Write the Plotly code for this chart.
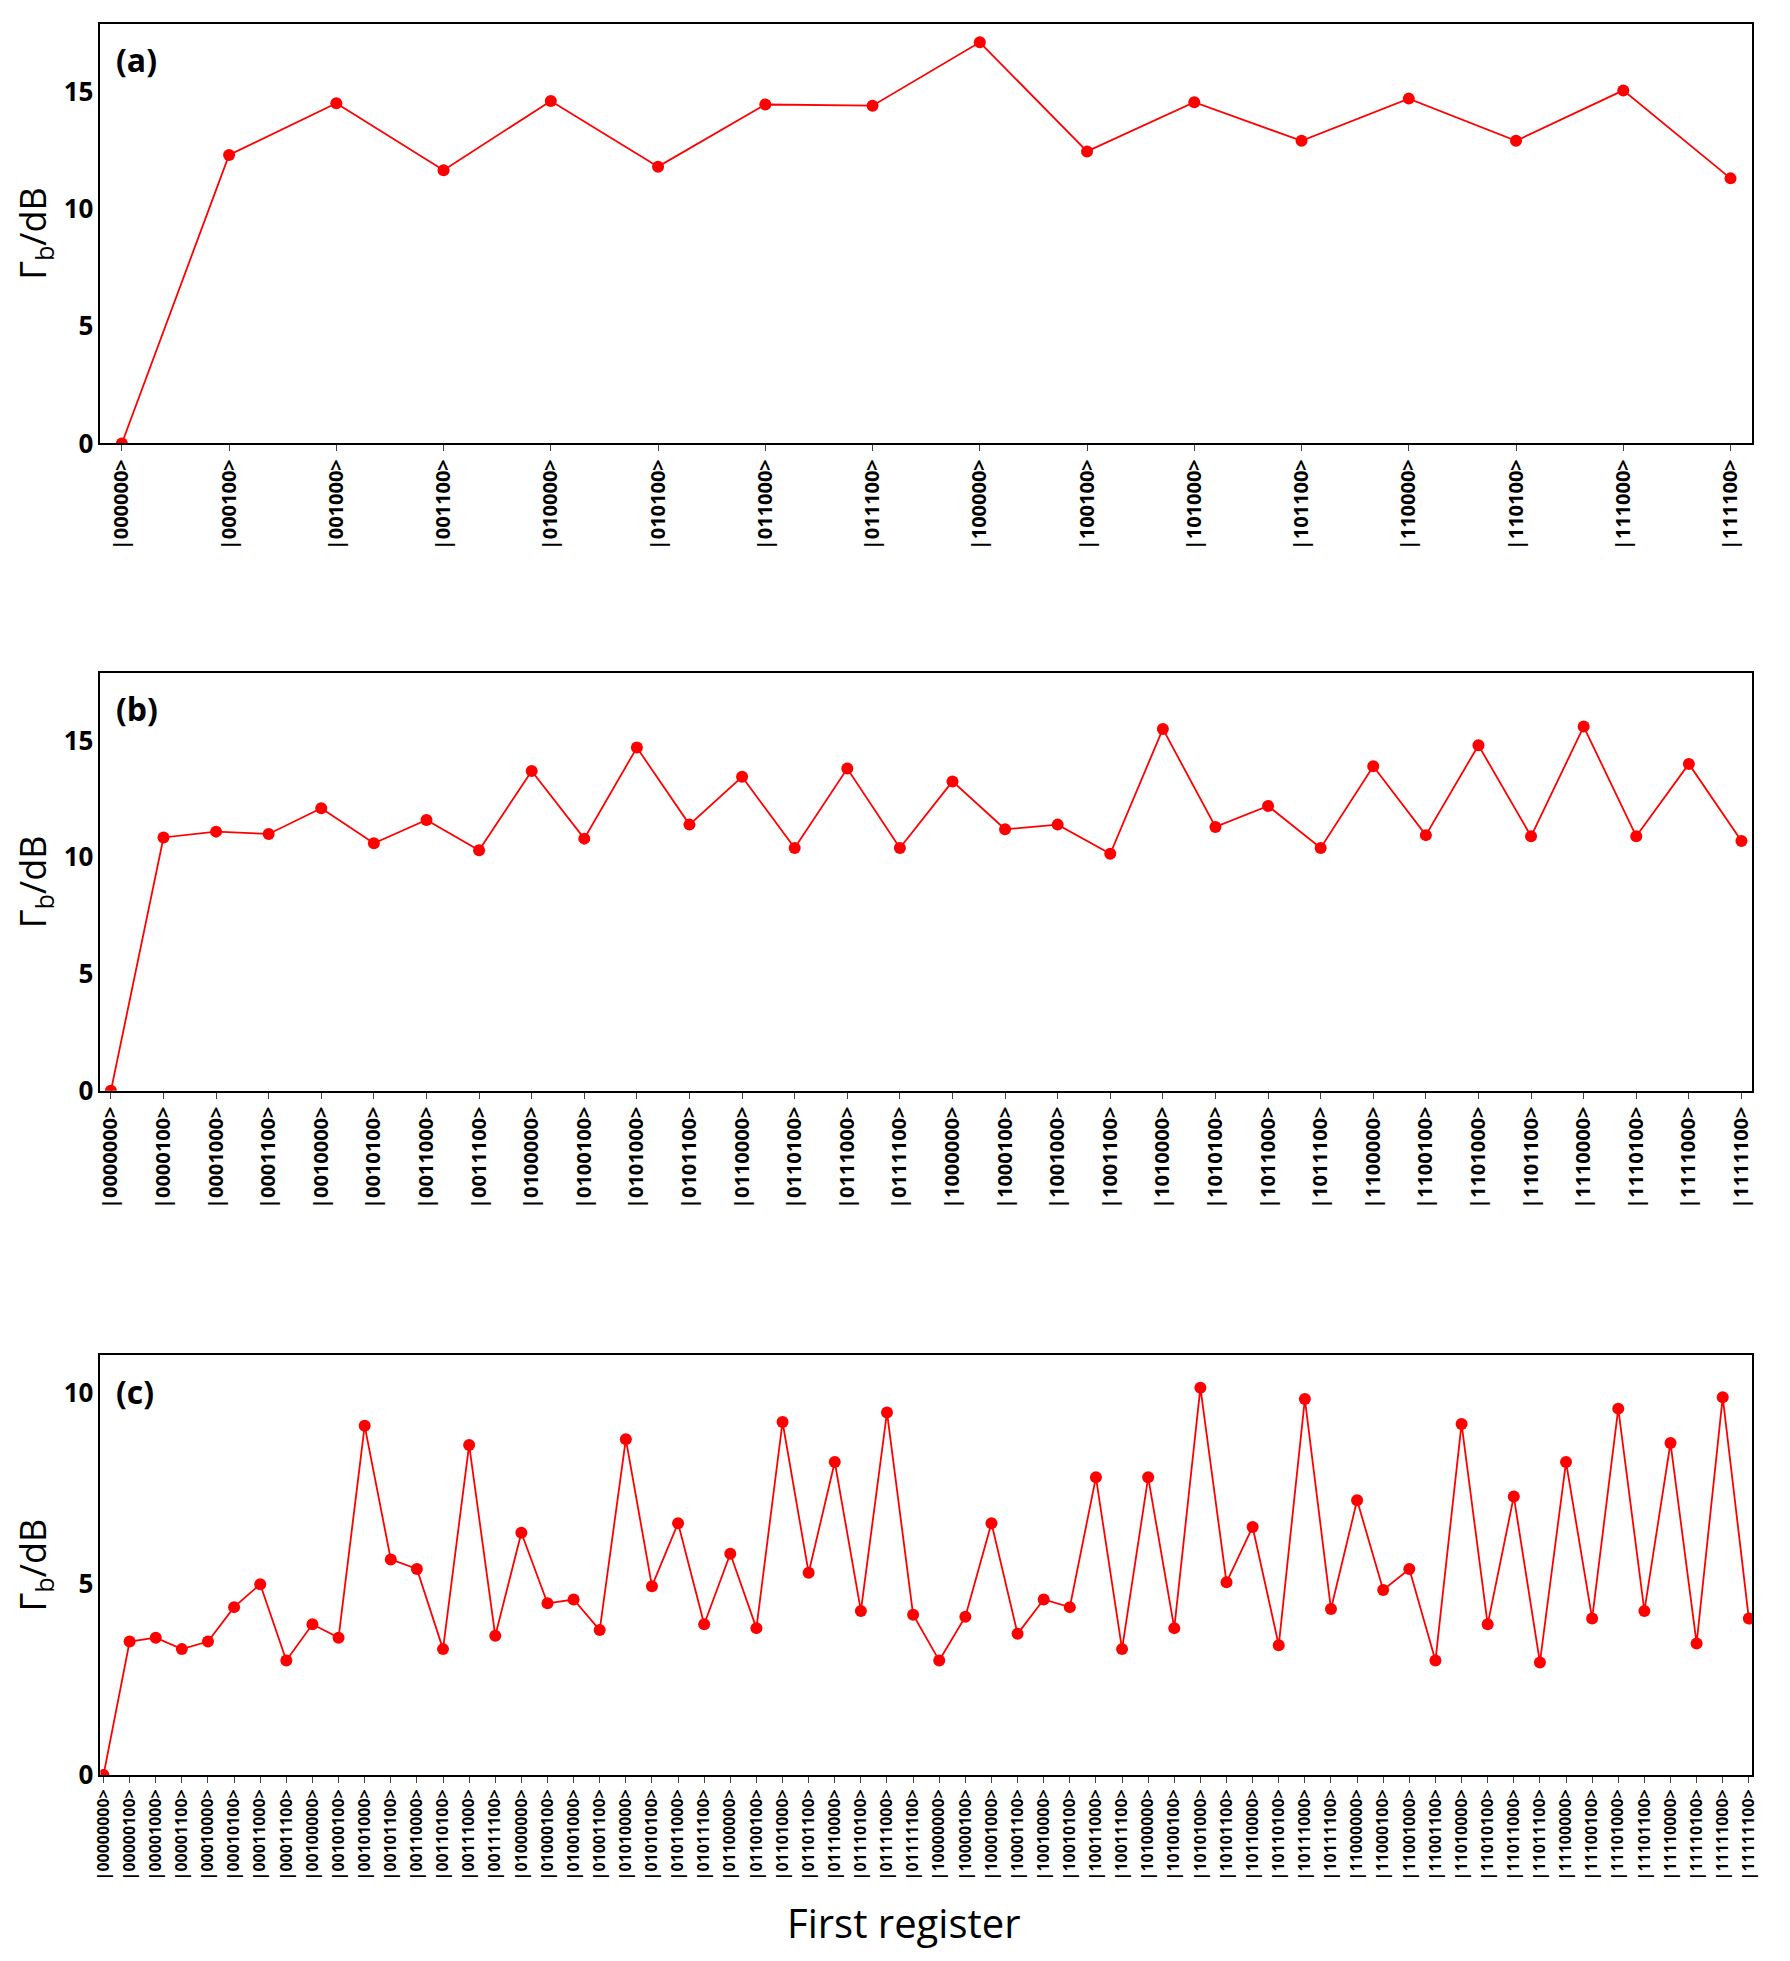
import plotly.graph_objects as go

# data
gamma_a = [0, 12.3, 14.5, 11.65, 14.6, 11.8, 14.45, 14.4, 17.1, 12.45, 14.55, 12.9, 14.7, 12.9, 15.05, 11.3]
gamma_b = [0, 10.85, 11.1, 11.0, 12.1, 10.6, 11.6, 10.3, 13.7, 10.8, 14.7, 11.4, 13.45, 10.4, 13.8, 10.4,
           13.25, 11.2, 11.4, 10.15, 15.5, 11.3, 12.2, 10.4, 13.9, 10.95, 14.8, 10.9, 15.6, 10.9, 14.0, 10.7]
gamma_c = [0, 3.5, 3.6, 3.3, 3.5, 4.4, 5.0, 3.0, 3.95, 3.6, 9.15, 5.65, 5.4, 3.3, 8.65, 3.65,
           6.35, 4.5, 4.6, 3.8, 8.8, 4.95, 6.6, 3.95, 5.8, 3.85, 9.25, 5.3, 8.2, 4.3, 9.5, 4.2,
           3.0, 4.15, 6.6, 3.7, 4.6, 4.4, 7.8, 3.3, 7.8, 3.85, 10.15, 5.05, 6.5, 3.4, 9.85, 4.35,
           7.2, 4.85, 5.4, 3.0, 9.2, 3.95, 7.3, 2.95, 8.2, 4.1, 9.6, 4.3, 8.7, 3.45, 9.9, 4.1]
labels_a = ["|" + format(4 * i, "06b") + ">" for i in range(16)]
labels_b = ["|" + format(4 * i, "07b") + ">" for i in range(32)]
labels_c = ["|" + format(4 * i, "08b") + ">" for i in range(64)]

panels = [
    (gamma_a, labels_a, "(a)", [0.776, 0.992], 17.9, [0, 5, 10, 15], 0.2, 20),
    (gamma_b, labels_b, "(b)", [0.443, 0.658], 17.9, [0, 5, 10, 15], 0.2, 20),
    (gamma_c, labels_c, "(c)", [0.091, 0.307], 11.0, [0, 5, 10], 0.12, 16),
]

fig = go.Figure()
font = "Open Sans"
for i, (vals, labs, tag, dom, ymax, yt, pad, xfs) in enumerate(panels, start=1):
    xa = "x" if i == 1 else f"x{i}"
    ya = "y" if i == 1 else f"y{i}"
    fig.add_trace(go.Scatter(x=labs, y=vals, xaxis=xa, yaxis=ya, mode="lines+markers",
                             line=dict(color="#ff0000", width=1.8),
                             marker=dict(color="#ff0000", size=12), showlegend=False))
    sfx = "" if i == 1 else str(i)
    fig.layout["xaxis" + sfx] = dict(domain=[0.047, 0.978], anchor=ya, type="category",
                                     range=[-pad, len(labs) - 1 + pad], tickangle=-90,
                                     ticks="outside", ticklen=6, showgrid=False, mirror=True,
                                     showline=True, linecolor="black", linewidth=1.5,
                                     tickfont=dict(family=font, size=xfs, color="black", weight="bold"))
    fig.layout["yaxis" + sfx] = dict(domain=dom, anchor=xa, range=[0, ymax], tickvals=yt,
                                     showgrid=False, zeroline=False, mirror=True, showline=True,
                                     linecolor="black", linewidth=1.5, ticks="", ticklen=0,
                                     tickfont=dict(family=font, size=26, color="black", weight="bold"),
                                     title=dict(text="Γ<sub>b</sub>/dB", standoff=10,
                                                font=dict(family=font, size=36, color="black")))
    fig.add_annotation(xref=xa + " domain", yref=ya + " domain", x=0.008, y=0.97,
                       xanchor="left", yanchor="top", text="<b>" + tag + "</b>", showarrow=False,
                       font=dict(family=font, size=32, color="black"))

fig.add_annotation(xref="paper", yref="paper", x=0.5, y=0.0, xanchor="center", yanchor="bottom",
                   text="First register", showarrow=False,
                   font=dict(family=font, size=40, color="black"))

fig.update_layout(width=1790, height=1961, plot_bgcolor="white", paper_bgcolor="white",
                  margin=dict(l=0, r=0, t=0, b=0))
fig.write_html("out.html")
